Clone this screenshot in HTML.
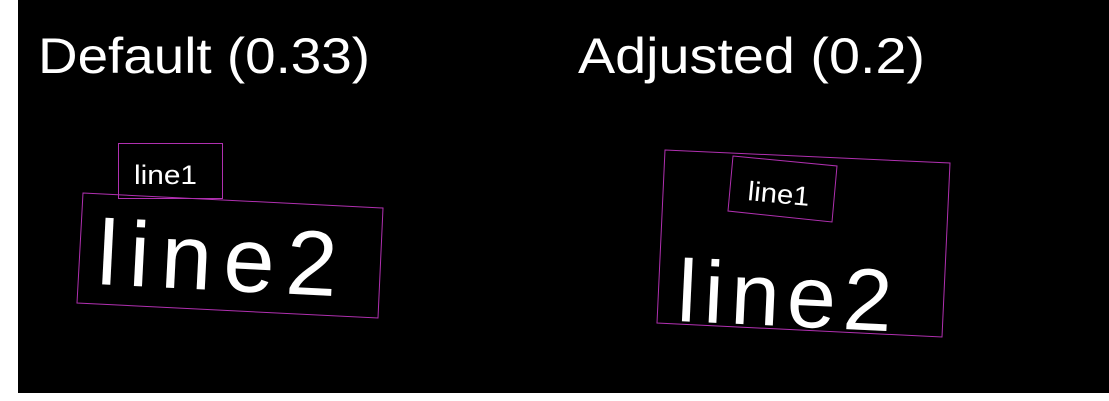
<!DOCTYPE html>
<html><head><meta charset="utf-8"><style>
html,body{margin:0;padding:0;background:#fff;width:1109px;height:401px;overflow:hidden}
svg{display:block}
text{font-family:"Liberation Sans",sans-serif;fill:#fff}
</style></head><body>
<svg width="1109" height="401">
<rect x="18" y="0" width="1091" height="393" fill="#000"/>
<text x="38" y="73" font-size="50" textLength="332" lengthAdjust="spacingAndGlyphs">Default (0.33)</text>
<text x="578" y="73" font-size="50" textLength="347" lengthAdjust="spacingAndGlyphs">Adjusted (0.2)</text>

<g>
<rect x="118.5" y="143.5" width="104" height="55" fill="none" stroke="#b030b0" stroke-width="1"/>
<text x="134" y="184" font-size="27" textLength="63" lengthAdjust="spacingAndGlyphs">line1</text>
<polygon points="83,193 383,208 378,318 77,303" fill="none" stroke="#b030b0" stroke-width="1"/>
<text transform="translate(96,284) rotate(2.9)" font-size="92" textLength="240" lengthAdjust="spacing">line2</text>
</g>

<g>
<polygon points="665,150 950,163 942,337 657,323" fill="none" stroke="#b030b0" stroke-width="1"/>
<polygon points="733,156 837,166 832,222 728,211" fill="none" stroke="#b030b0" stroke-width="1"/>
<text transform="translate(747,200) rotate(5.5)" font-size="27" textLength="62" lengthAdjust="spacingAndGlyphs">line1</text>
<text transform="translate(676,321) rotate(2.7)" font-size="88" textLength="215" lengthAdjust="spacing">line2</text>
</g>
</svg>
</body></html>
